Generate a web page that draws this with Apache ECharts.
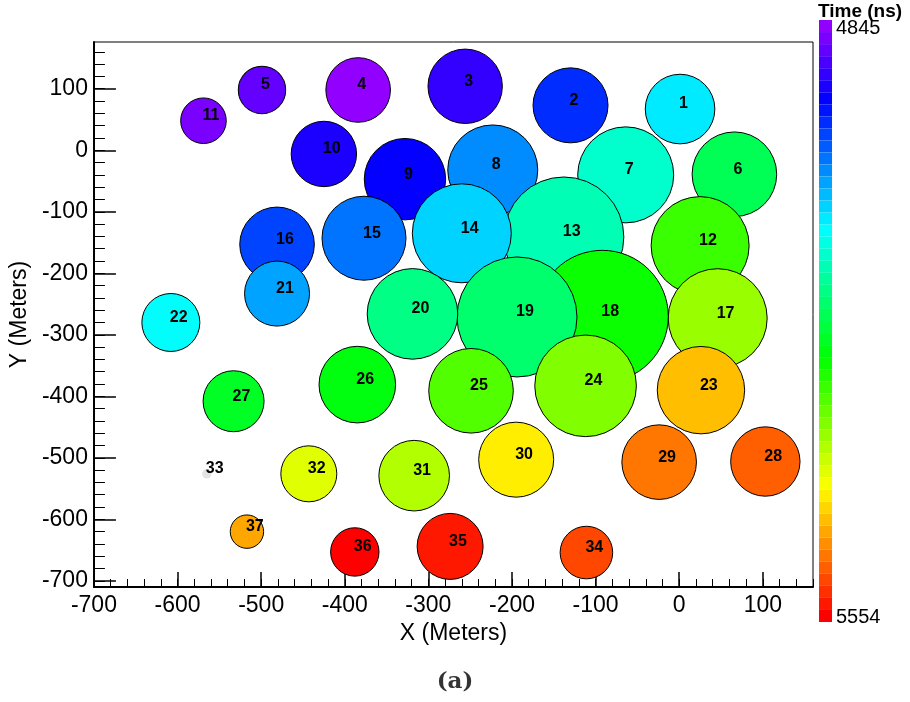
<!DOCTYPE html>
<html>
<head>
<meta charset="utf-8">
<script src="https://cdn.jsdelivr.net/npm/echarts@6.0.0/dist/echarts.min.js"></script>
<style>
  html, body { margin: 0; padding: 0; background: #fff; }
  #chart { width: 910px; height: 702px; }
</style>
</head>
<body>
<div id="chart"></div>
<script>
// ---- data ----
const stationIds = [1,2,3,4,5,6,7,8,9,10,11,12,13,14,15,16,17,18,19,20,21,22,23,24,25,26,27,28,29,30,31,32,33,34,35,36,37];
const xMeters = [1,-130,-256,-384,-499,66,-64,-223,-328,-425,-569,25,-138,-260,-377,-481,46,-92,-194,-319,-481,-608,26,-112,-249,-385,-533,103,-24,-195,-317,-443,-565,-111,-274,-388,-517];
const yMeters = [67,73,104,98,98,-39,-40,-32,-47,-6,48,-155,-141,-135,-143,-153,-273,-270,-271,-266,-233,-280,-390,-383,-391,-381,-408,-506,-507,-503,-529,-526,-526,-654,-644,-653,-620];
const timeNs = [5079,4966,4909,4852,4881,5192,5122,5022,4937,4923,4866,5278,5136,5065,5008,4980,5334,5249,5178,5164,5036,5093,5434,5320,5292,5235,5221,5490,5476,5405,5348,5377,0,5504,5533,5547,5448];
const signal = [34.8,37.5,37.2,32.3,23.7,42.3,48,45,40.7,32.7,22.8,49,60,49.5,42,37.3,49.5,66,60,45.3,32.5,29,43.7,50.8,42.3,38.3,30.5,34.7,37.3,37.5,35.3,28,4.7,26.3,33,24.2,16.7];
const xTickValues = [-700,-600,-500,-400,-300,-200,-100,0,100];
const yTickValues = [-700,-600,-500,-400,-300,-200,-100,0,100];
const colorbarLabels = ['4845','5554'];
const xRange = [-700, 160];
const yRange = [-710, 176];

// ---- palette (ROOT "pretty" rainbow, 50 steps) ----
function hls(h) {
  const l = 0.5, s = 1;
  const c = (1 - Math.abs(2*l - 1)) * s;
  const hp = h / 60;
  const x = c * (1 - Math.abs(hp % 2 - 1));
  let r=0,g=0,b=0;
  if (hp < 1) { r=c; g=x; } else if (hp < 2) { r=x; g=c; } else if (hp < 3) { g=c; b=x; }
  else if (hp < 4) { g=x; b=c; } else if (hp < 5) { r=x; b=c; } else { r=c; b=x; }
  const m = l - c/2;
  const to = v => Math.round((v+m)*255).toString(16).padStart(2,'0');
  return '#' + to(r) + to(g) + to(b);
}
const nColors = 50;
const tMin = Number(colorbarLabels[0]), tMax = Number(colorbarLabels[1]);
const pieces = [];
for (let i = 0; i < nColors; i++) {
  const lo = tMin + (tMax - tMin) * i / nColors;
  const hi = tMin + (tMax - tMin) * (i + 1) / nColors;
  const p = { gte: lo, color: hls(280 - (i + 1) * (280 / nColors)) };
  if (i === nColors - 1) p.lte = hi; else p.lt = hi;
  pieces.push(p);
}
function range(a, b, step) { const r = []; for (let v = a; v <= b; v += step) r.push(v); return r; }

const data = stationIds.map((id, k) => {
  const item = { value: [xMeters[k], yMeters[k], timeNs[k], signal[k], id] };
  if (timeNs[k] < tMin || timeNs[k] > tMax) item.itemStyle = { borderWidth: 0 };
  return item;
});

const font = 'Liberation Sans, Arial, Helvetica, sans-serif';
const chart = echarts.init(document.getElementById('chart'), null, { renderer: 'canvas' });
chart.setOption({
  animation: false,
  backgroundColor: '#fff',
  grid: { left: 93, right: 97, top: 42, bottom: 115, show: true, borderColor: '#000', borderWidth: 1, backgroundColor: 'transparent' },
  xAxis: [
    {
      type: 'value', min: xRange[0], max: xRange[1], position: 'bottom',
      axisLine: { show: true, onZero: false, lineStyle: { color: '#000', width: 2 } },
      axisTick: { show: true, inside: true, length: 15, customValues: xTickValues, lineStyle: { color: '#000', width: 1.5 } },
      axisLabel: { show: true, customValues: xTickValues, fontSize: 23, color: '#000', fontFamily: font, margin: 7 },
      splitLine: { show: false },
      name: 'X (Meters)', nameLocation: 'middle', nameGap: 33,
      nameTextStyle: { fontSize: 23, color: '#000', fontFamily: font }
    },
    {
      type: 'value', min: xRange[0], max: xRange[1], position: 'bottom',
      axisLine: { show: false, onZero: false },
      axisTick: { show: true, inside: true, length: 8, customValues: range(-700, 160, 20), lineStyle: { color: '#000', width: 1 } },
      axisLabel: { show: false },
      splitLine: { show: false }
    }
  ],
  yAxis: [
    {
      type: 'value', min: yRange[0], max: yRange[1], position: 'left',
      axisLine: { show: true, onZero: false, lineStyle: { color: '#000', width: 2 } },
      axisTick: { show: true, inside: true, length: 22, customValues: yTickValues, lineStyle: { color: '#000', width: 1.5 } },
      axisLabel: { show: true, customValues: yTickValues, fontSize: 23, color: '#000', fontFamily: font, margin: 6 },
      splitLine: { show: false },
      name: 'Y (Meters)', nameLocation: 'middle', nameGap: 53,
      nameTextStyle: { fontSize: 23, color: '#000', fontFamily: font }
    },
    {
      type: 'value', min: yRange[0], max: yRange[1], position: 'left',
      axisLine: { show: false, onZero: false },
      axisTick: { show: true, inside: true, length: 11, customValues: range(-700, 176, 20), lineStyle: { color: '#000', width: 1 } },
      axisLabel: { show: false },
      splitLine: { show: false }
    }
  ],
  visualMap: {
    type: 'piecewise', seriesIndex: 0, dimension: 2,
    pieces: pieces, inverse: true,
    orient: 'vertical', left: 819, top: 20, padding: 0,
    itemWidth: 13, itemHeight: 602 / nColors, itemGap: 0, itemSymbol: 'rect',
    showLabel: false, hoverLink: false,
    outOfRange: { color: '#e3e3e3' }
  },
  series: [{
    type: 'scatter', xAxisIndex: 0, yAxisIndex: 0,
    data: data,
    symbol: 'circle',
    symbolSize: v => 2 * v[3],
    itemStyle: { borderColor: '#000', borderWidth: 1, opacity: 1 },
    label: {
      show: true, position: 'inside', align: 'left', verticalAlign: 'middle', offset: [-1, -5],
      formatter: p => String(p.value[4]),
      fontSize: 16, fontWeight: 'bold', color: '#000', fontFamily: font
    },
    emphasis: { disabled: true }
  }],
  graphic: [
    { type: 'text', left: 818, top: 2, style: { text: 'Time (ns)', font: 'bold 19px ' + font, fill: '#000' } },
    { type: 'text', left: 836, top: 18, style: { text: colorbarLabels[0], font: '20px ' + font, fill: '#000' } },
    { type: 'text', left: 836, top: 607, style: { text: colorbarLabels[1], font: '20px ' + font, fill: '#000' } },
    { type: 'text', left: 'center', top: 671, style: { text: '(a)', font: 'bold 23px "DejaVu Serif", "Liberation Serif", serif', fill: '#333' } }
  ]
});
</script>
</body>
</html>
